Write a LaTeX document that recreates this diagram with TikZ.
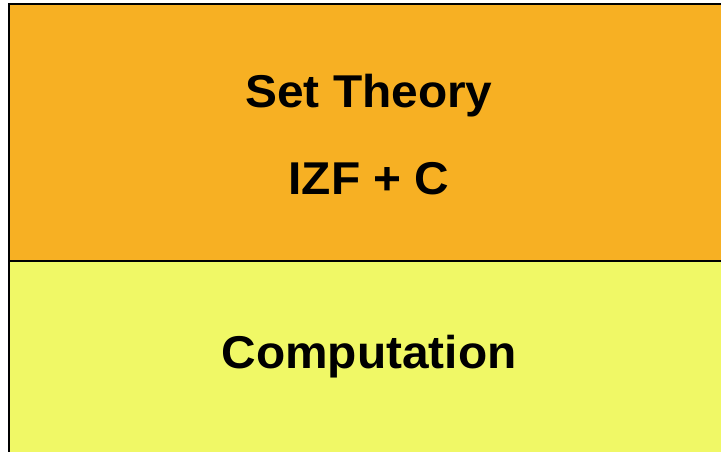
\documentclass[tikz,border=0pt]{standalone}
\usepackage{fontspec}
\setmainfont[FakeStretch=1.04]{Liberation Sans}
\definecolor{layerorange}{RGB}{247,176,35}
\definecolor{layeryellow}{RGB}{240,248,102}
\begin{document}
\begin{tikzpicture}[x=1pt,y=1pt,
  layer/.style={draw=black,line width=2pt},
  lbl/.style={anchor=base,font=\fontsize{46}{52}\selectfont\bfseries,inner sep=0pt}]
\useasboundingbox (0,0) rectangle (721,452);
\begin{scope}
\clip (0,0) rectangle (721,452);
\fill[layeryellow] (8.5,-10) rectangle (730,191);
\fill[layerorange] (8.5,191) rectangle (730,447.5);
\draw[layer] (730,447.5) -- (8.5,447.5) -- (8.5,-10);
\draw[layer] (8.5,191) -- (730,191);
\end{scope}
\node[lbl] (set) at (369,344) {Set Theory};
\node[lbl] (izf) at (369,257) {IZF + C};
\node[lbl] (comp) at (369,83) {Computation};
\end{tikzpicture}
\end{document}
